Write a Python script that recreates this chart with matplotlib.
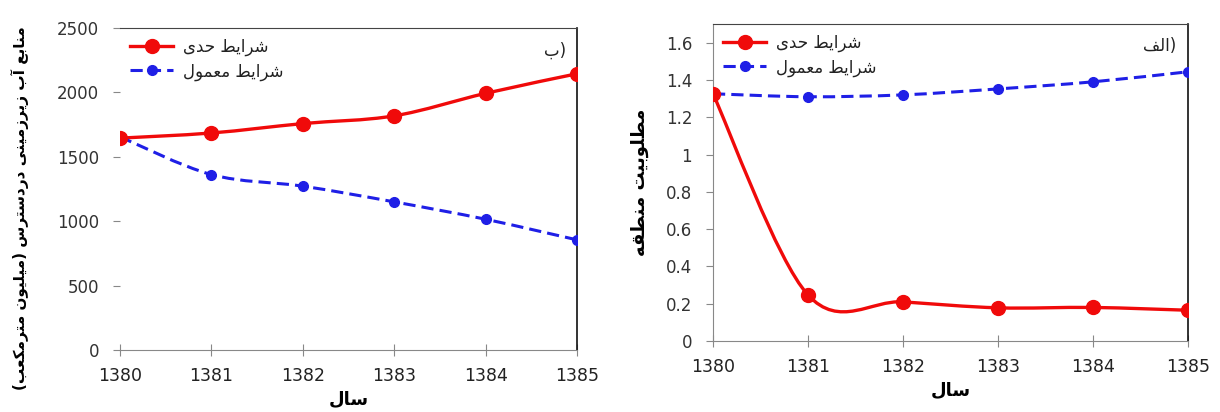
import matplotlib
matplotlib.use('Agg')

import numpy as np
import matplotlib.pyplot as plt
from matplotlib.path import Path
from matplotlib.patches import PathPatch
from matplotlib.lines import Line2D

# --- data -------------------------------------------------------------
years = [1380, 1381, 1382, 1383, 1384, 1385]

# panel (b): available groundwater (million m3)
water_extreme = [1645, 1685, 1758, 1818, 1993, 2145]
water_normal = [1655, 1362, 1272, 1150, 1015, 855]

# panel (a): regional desirability
util_extreme = [1.326, 0.247, 0.21, 0.178, 0.18, 0.165]
util_normal = [1.326, 1.31, 1.32, 1.352, 1.39, 1.444]

lbl_extreme = "شرایط حدی"
lbl_normal = "شرایط معمول"
xlabel = "سال"
ylabel_left = "منابع آب زیرزمینی دردسترس (میلیون مترمکعب)"
ylabel_right = "مطلوبیت منطقه"
tag_left = "ب"
tag_right = "الف"

# --- minimal Persian shaping (matplotlib has no bidi / joining) --------
FORMS = {
    'ا': (0xFE8D, 0xFE8E), 'آ': (0xFE81, 0xFE82),
    'ب': (0xFE8F, 0xFE90, 0xFE91, 0xFE92), 'ت': (0xFE95, 0xFE96, 0xFE97, 0xFE98),
    'ح': (0xFEA1, 0xFEA2, 0xFEA3, 0xFEA4), 'د': (0xFEA9, 0xFEAA),
    'ر': (0xFEAD, 0xFEAE), 'ز': (0xFEAF, 0xFEB0),
    'س': (0xFEB1, 0xFEB2, 0xFEB3, 0xFEB4), 'ش': (0xFEB5, 0xFEB6, 0xFEB7, 0xFEB8),
    'ط': (0xFEC1, 0xFEC2, 0xFEC3, 0xFEC4), 'ع': (0xFEC9, 0xFECA, 0xFECB, 0xFECC),
    'ف': (0xFED1, 0xFED2, 0xFED3, 0xFED4), 'ق': (0xFED5, 0xFED6, 0xFED7, 0xFED8),
    'ک': (0xFED9, 0xFEDA, 0xFEDB, 0xFEDC), 'ل': (0xFEDD, 0xFEDE, 0xFEDF, 0xFEE0),
    'م': (0xFEE1, 0xFEE2, 0xFEE3, 0xFEE4), 'ن': (0xFEE5, 0xFEE6, 0xFEE7, 0xFEE8),
    'ه': (0xFEE9, 0xFEEA, 0xFEEB, 0xFEEC), 'و': (0xFEED, 0xFEEE),
    'ی': (0xFEEF, 0xFEF0, 0xFEF3, 0xFEF4),
}
MIRROR = {'(': ')', ')': '('}


def shape(text):
    out = []
    n = len(text)
    for i, c in enumerate(text):
        if c not in FORMS:
            out.append(MIRROR.get(c, c))
            continue
        prev = text[i - 1] if i > 0 else None
        nxt = text[i + 1] if i < n - 1 else None
        two_way = len(FORMS[c]) == 4
        join_prev = prev in FORMS and len(FORMS[prev]) == 4
        join_next = two_way and nxt in FORMS
        f = FORMS[c]
        if join_prev and join_next:
            out.append(chr(f[3]))
        elif join_prev:
            out.append(chr(f[1]))
        elif join_next:
            out.append(chr(f[2]))
        else:
            out.append(chr(f[0]))
    return ''.join(reversed(out))


def smooth_path(x, y):
    # Excel-style smoothed line: cubic bezier through the points
    x = np.asarray(x, float)
    y = np.asarray(y, float)
    pts = np.column_stack([x, y])
    verts = [pts[0]]
    codes = [Path.MOVETO]
    n = len(pts)
    for i in range(n - 1):
        p0 = pts[i - 1] if i > 0 else pts[i]
        p1 = pts[i]
        p2 = pts[i + 1]
        p3 = pts[i + 2] if i + 2 < n else pts[i + 1]
        c1 = p1 + (p2 - p0) / 6.0
        c2 = p2 - (p3 - p1) / 6.0
        verts += [c1, c2, p2]
        codes += [Path.CURVE4] * 3
    return Path(verts, codes)


RED = '#f00a0a'
BLUE = '#1f1fe6'
AR_FONT = 'DejaVu Sans'

fig = plt.figure(figsize=(12.2, 4.12), dpi=100)
axL = fig.add_axes([0.0984, 0.1505, 0.3746, 0.7815])
axR = fig.add_axes([0.5844, 0.1723, 0.3894, 0.7694])


def draw(ax, red, blue, ylim, yticks, ytick_fmt):
    ax.add_patch(PathPatch(smooth_path(years, red), fill=False,
                           edgecolor=RED, lw=2.4, zorder=3))
    ax.add_patch(PathPatch(smooth_path(years, blue), fill=False,
                           edgecolor=BLUE, lw=2.2, linestyle=(0, (4, 2)), zorder=3))
    ax.plot(years, blue, 'o', color=BLUE, ms=7, zorder=4)
    ax.plot(years, red, 'o', color=RED, ms=10, zorder=5)
    ax.set_xlim(1380, 1385)
    ax.set_ylim(*ylim)
    ax.set_xticks(years)
    ax.set_yticks(yticks)
    ax.set_yticklabels([ytick_fmt(v) for v in yticks])
    ax.tick_params(axis='y', direction='out', length=5, color='#888888',
                   labelsize=12, labelcolor='#333333', pad=10)
    ax.tick_params(axis='x', direction='inout', length=8, color='#888888',
                   labelsize=12.5, labelcolor='#222222', pad=8)
    ax.spines['bottom'].set_color('#888888')
    ax.spines['top'].set_color('#444444')
    ax.spines['right'].set_color('#111111')
    ax.spines['right'].set_linewidth(1.2)
    for s in ax.spines.values():
        s.set_clip_on(False)
    handles = [
        Line2D([], [], color=RED, lw=2.4, marker='o', ms=10),
        Line2D([], [], color=BLUE, lw=2.2, linestyle=(0, (4, 2)), marker='o', ms=7),
    ]
    leg = ax.legend(handles, [shape(lbl_extreme), shape(lbl_normal)],
                    loc='upper left', frameon=False, handlelength=2.6,
                    handletextpad=0.6, labelspacing=0.35,
                    borderaxespad=0.2, prop={'family': AR_FONT, 'size': 12})
    for t in leg.get_texts():
        t.set_color('#222222')
    ax.set_xlabel(shape(xlabel), family=AR_FONT, fontsize=13,
                  fontweight='bold', labelpad=4)


draw(axL, water_extreme, water_normal, (0, 2500),
     [0, 500, 1000, 1500, 2000, 2500], lambda v: f"{v:d}")
axL.spines['left'].set_visible(False)
axL.set_ylabel(shape(ylabel_left), family=AR_FONT, fontsize=11,
               fontweight='bold', labelpad=12)
axL.yaxis.set_label_coords(-0.2, 0.44)
axL.text(0.975, 0.93, shape(tag_left) + ')', transform=axL.transAxes,
         ha='right', va='center', family=AR_FONT, fontsize=12, color='#222222')

draw(axR, util_extreme, util_normal, (0, 1.7),
     [0, 0.2, 0.4, 0.6, 0.8, 1.0, 1.2, 1.4, 1.6],
     lambda v: "0" if v == 0 else ("1" if v == 1 else f"{v:.1f}"))
axR.spines['left'].set_color('#888888')
axR.set_ylabel(shape(ylabel_right), family=AR_FONT, fontsize=13,
               fontweight='bold', labelpad=12)
axR.yaxis.set_label_coords(-0.135, 0.5)
axR.text(0.975, 0.93, shape(tag_right) + ')', transform=axR.transAxes,
         ha='right', va='center', family=AR_FONT, fontsize=12, color='#222222')

fig.savefig('out.png', dpi=100)
